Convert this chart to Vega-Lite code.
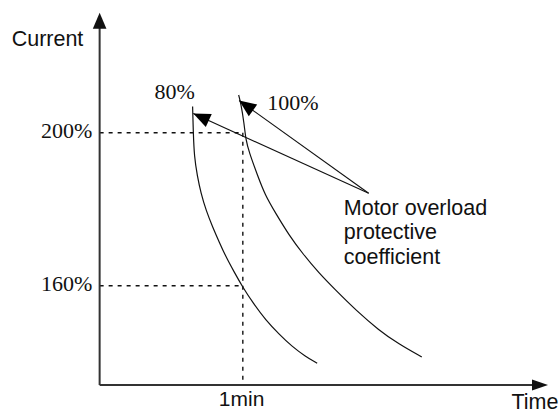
{
  "$schema": "https://vega.github.io/schema/vega-lite/v6.json",
  "width": 559,
  "height": 414,
  "autosize": {"type": "fit", "contains": "padding"},
  "padding": 0,
  "background": "white",
  "config": {"view": {"stroke": null}},
  "datasets": {
    "curves": [
      {"series": "80%", "i": 1, "t": 38.96, "current": 206.85},
      {"series": "80%", "i": 2, "t": 39.25, "current": 199.84},
      {"series": "80%", "i": 3, "t": 39.67, "current": 193.73},
      {"series": "80%", "i": 4, "t": 40.92, "current": 188.68},
      {"series": "80%", "i": 5, "t": 42.46, "current": 184.16},
      {"series": "80%", "i": 6, "t": 44.68, "current": 179.53},
      {"series": "80%", "i": 7, "t": 47.31, "current": 175.42},
      {"series": "80%", "i": 8, "t": 50.10, "current": 171.42},
      {"series": "80%", "i": 9, "t": 52.90, "current": 167.58},
      {"series": "80%", "i": 10, "t": 56.37, "current": 163.58},
      {"series": "80%", "i": 11, "t": 59.83, "current": 159.74},
      {"series": "80%", "i": 12, "t": 64.30, "current": 155.48},
      {"series": "80%", "i": 13, "t": 69.60, "current": 151.03},
      {"series": "80%", "i": 14, "t": 75.16, "current": 147.37},
      {"series": "80%", "i": 15, "t": 80.71, "current": 144.05},
      {"series": "80%", "i": 16, "t": 86.01, "current": 141.62},
      {"series": "80%", "i": 17, "t": 91.15, "current": 139.71},
      {"series": "100%", "i": 1, "t": 58.25, "current": 209.86},
      {"series": "100%", "i": 2, "t": 59.16, "current": 207.69},
      {"series": "100%", "i": 3, "t": 60.54, "current": 202.46},
      {"series": "100%", "i": 4, "t": 61.25, "current": 198.09},
      {"series": "100%", "i": 5, "t": 62.63, "current": 194.95},
      {"series": "100%", "i": 6, "t": 66.10, "current": 188.94},
      {"series": "100%", "i": 7, "t": 69.31, "current": 183.71},
      {"series": "100%", "i": 8, "t": 73.78, "current": 178.93},
      {"series": "100%", "i": 9, "t": 79.33, "current": 173.25},
      {"series": "100%", "i": 10, "t": 85.18, "current": 168.29},
      {"series": "100%", "i": 11, "t": 91.86, "current": 163.32},
      {"series": "100%", "i": 12, "t": 98.83, "current": 158.88},
      {"series": "100%", "i": 13, "t": 107.72, "current": 153.39},
      {"series": "100%", "i": 14, "t": 116.91, "current": 148.42},
      {"series": "100%", "i": 15, "t": 125.26, "current": 144.76},
      {"series": "100%", "i": 16, "t": 134.99, "current": 141.36}
    ],
    "guides": [
      {"t": 0, "current": 200, "t2": 60, "current2": 200},
      {"t": 60, "current": 200, "t2": 60, "current2": 134.04},
      {"t": 0, "current": 160, "t2": 60, "current2": 160}
    ],
    "axes": [
      {"t": 0, "current": 134.04, "t2": 0, "current2": 229.5},
      {"t": 0, "current": 134.04, "t2": 185, "current2": 134.04}
    ],
    "leaders": [
      {"t": 112.73, "current": 184.16, "t2": 39.25, "current2": 205.02},
      {"t": 112.73, "current": 184.16, "t2": 58.46, "current2": 208.42}
    ],
    "heads": [
      {"name": "yaxis", "t": 0, "current": 231.37},
      {"name": "xaxis", "t": 187.89, "current": 134.04},
      {"name": "p80", "t": 39.25, "current": 205.02},
      {"name": "p100", "t": 58.46, "current": 208.42}
    ],
    "sansText": [
      {"t": -36.87, "current": 222.67, "label": "Current"},
      {"t": 102.30, "current": 178.48, "label": "Motor overload"},
      {"t": 102.30, "current": 172.08, "label": "protective"},
      {"t": 102.30, "current": 165.67, "label": "coefficient"},
      {"t": 172.57, "current": 127.69, "label": "Time"}
    ],
    "minText": [
      {"t": 59.50, "current": 128.63, "label": "1min"}
    ],
    "serifText": [
      {"t": 22.96, "current": 208.73, "label": "80%"},
      {"t": 70.27, "current": 205.93, "label": "100%"}
    ],
    "tickText": [
      {"t": -3.05, "current": 198.54, "label": "200%"},
      {"t": -3.05, "current": 158.69, "label": "160%"}
    ]
  },
  "layer": [
    {
      "data": {"name": "guides"},
      "mark": {"type": "rule", "color": "#111111", "strokeWidth": 1.4, "strokeDash": [4, 5]},
      "encoding": {
        "x": {"field": "t", "type": "quantitative", "scale": {"domain": [-41.75, 191.65], "nice": false, "zero": false}, "axis": null},
        "y": {"field": "current", "type": "quantitative", "scale": {"domain": [126.46, 234.69], "nice": false, "zero": false}, "axis": null},
        "x2": {"field": "t2"},
        "y2": {"field": "current2"}
      }
    },
    {
      "data": {"name": "curves"},
      "mark": {"type": "line", "color": "#111111", "strokeWidth": 1.2, "interpolate": "basis"},
      "encoding": {
        "x": {"field": "t", "type": "quantitative", "scale": {"domain": [-41.75, 191.65], "nice": false, "zero": false}, "axis": null},
        "y": {"field": "current", "type": "quantitative", "scale": {"domain": [126.46, 234.69], "nice": false, "zero": false}, "axis": null},
        "detail": {"field": "series", "type": "nominal"},
        "order": {"field": "i", "type": "quantitative"}
      }
    },
    {
      "data": {"name": "axes"},
      "mark": {"type": "rule", "color": "#333333", "strokeWidth": 2},
      "encoding": {
        "x": {"field": "t", "type": "quantitative", "axis": null},
        "y": {"field": "current", "type": "quantitative", "axis": null},
        "x2": {"field": "t2"},
        "y2": {"field": "current2"}
      }
    },
    {
      "data": {"name": "leaders"},
      "mark": {"type": "rule", "color": "#111111", "strokeWidth": 1.1},
      "encoding": {
        "x": {"field": "t", "type": "quantitative", "axis": null},
        "y": {"field": "current", "type": "quantitative", "axis": null},
        "x2": {"field": "t2"},
        "y2": {"field": "current2"}
      }
    },
    {
      "data": {"name": "heads"},
      "transform": [{"filter": "datum.name === 'yaxis'"}],
      "mark": {"type": "point", "filled": true, "color": "#111111", "opacity": 1, "size": 256, "shape": "M0,0L0.85,2L-0.85,2Z", "angle": 0},
      "encoding": {
        "x": {"field": "t", "type": "quantitative", "axis": null},
        "y": {"field": "current", "type": "quantitative", "axis": null}
      }
    },
    {
      "data": {"name": "heads"},
      "transform": [{"filter": "datum.name === 'xaxis'"}],
      "mark": {"type": "point", "filled": true, "color": "#111111", "opacity": 1, "size": 256, "shape": "M0,0L0.7,2L-0.7,2Z", "angle": 90},
      "encoding": {
        "x": {"field": "t", "type": "quantitative", "axis": null},
        "y": {"field": "current", "type": "quantitative", "axis": null}
      }
    },
    {
      "data": {"name": "heads"},
      "transform": [{"filter": "datum.name === 'p80'"}],
      "mark": {"type": "point", "filled": true, "color": "#000000", "opacity": 1, "size": 289, "shape": "M0,0L0.85,2L-0.85,2Z", "angle": 294.4},
      "encoding": {
        "x": {"field": "t", "type": "quantitative", "axis": null},
        "y": {"field": "current", "type": "quantitative", "axis": null}
      }
    },
    {
      "data": {"name": "heads"},
      "transform": [{"filter": "datum.name === 'p100'"}],
      "mark": {"type": "point", "filled": true, "color": "#000000", "opacity": 1, "size": 289, "shape": "M0,0L0.85,2L-0.85,2Z", "angle": 305.5},
      "encoding": {
        "x": {"field": "t", "type": "quantitative", "axis": null},
        "y": {"field": "current", "type": "quantitative", "axis": null}
      }
    },
    {
      "data": {"name": "sansText"},
      "mark": {"type": "text", "font": "Liberation Sans", "fontSize": 21.5, "align": "left", "baseline": "alphabetic", "color": "#111111"},
      "encoding": {
        "x": {"field": "t", "type": "quantitative", "axis": null},
        "y": {"field": "current", "type": "quantitative", "axis": null},
        "text": {"field": "label"}
      }
    },
    {
      "data": {"name": "minText"},
      "mark": {"type": "text", "font": "Liberation Sans", "fontSize": 21, "align": "center", "baseline": "alphabetic", "color": "#111111"},
      "encoding": {
        "x": {"field": "t", "type": "quantitative", "axis": null},
        "y": {"field": "current", "type": "quantitative", "axis": null},
        "text": {"field": "label"}
      }
    },
    {
      "data": {"name": "serifText"},
      "mark": {"type": "text", "font": "Liberation Serif", "fontSize": 22, "align": "left", "baseline": "alphabetic", "color": "#111111"},
      "encoding": {
        "x": {"field": "t", "type": "quantitative", "axis": null},
        "y": {"field": "current", "type": "quantitative", "axis": null},
        "text": {"field": "label"}
      }
    },
    {
      "data": {"name": "tickText"},
      "mark": {"type": "text", "font": "Liberation Serif", "fontSize": 22, "align": "right", "baseline": "alphabetic", "color": "#111111"},
      "encoding": {
        "x": {"field": "t", "type": "quantitative", "axis": null},
        "y": {"field": "current", "type": "quantitative", "axis": null},
        "text": {"field": "label"}
      }
    }
  ]
}
